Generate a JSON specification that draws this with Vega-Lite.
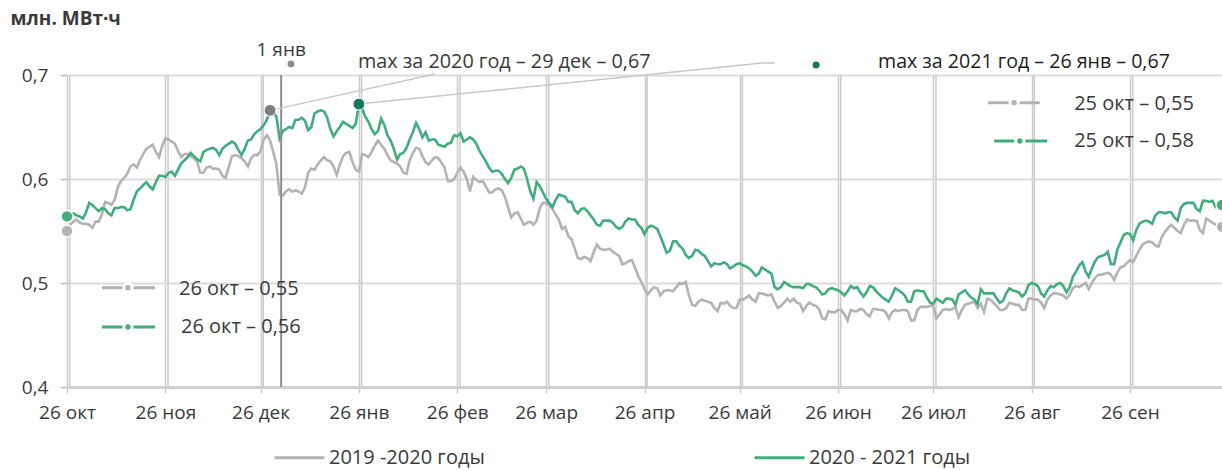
{
"$schema":"https://vega.github.io/schema/vega-lite/v6.json",
"width":1155,"height":312,
"autosize":{"type":"none"},
"padding":{"left":67,"top":75,"right":0,"bottom":83},
"config":{"font":"Open Sans","view":{"stroke":null}},
"datasets":{"main":[
{"date":"2020-10-26","a":0.550,"b":0.564},{"date":"2020-10-27","a":0.556,"b":0.566},{"date":"2020-10-28","a":0.559,"b":0.567},{"date":"2020-10-29","a":0.561,"b":0.565},{"date":"2020-10-30","a":0.558,"b":0.564},{"date":"2020-10-31","a":0.557,"b":0.562},
{"date":"2020-11-01","a":0.557,"b":0.568},{"date":"2020-11-02","a":0.556,"b":0.577},{"date":"2020-11-03","a":0.553,"b":0.575},{"date":"2020-11-04","a":0.559,"b":0.572},{"date":"2020-11-05","a":0.559,"b":0.569},{"date":"2020-11-06","a":0.566,"b":0.572},{"date":"2020-11-07","a":0.578,"b":0.571},{"date":"2020-11-08","a":0.577,"b":0.567},{"date":"2020-11-09","a":0.575,"b":0.565},{"date":"2020-11-10","a":0.580,"b":0.572},{"date":"2020-11-11","a":0.592,"b":0.572},{"date":"2020-11-12","a":0.598,"b":0.573},{"date":"2020-11-13","a":0.601,"b":0.573},{"date":"2020-11-14","a":0.605,"b":0.570},{"date":"2020-11-15","a":0.612,"b":0.571},{"date":"2020-11-16","a":0.614,"b":0.580},{"date":"2020-11-17","a":0.611,"b":0.588},{"date":"2020-11-18","a":0.618,"b":0.591},{"date":"2020-11-19","a":0.624,"b":0.594},{"date":"2020-11-20","a":0.629,"b":0.597},{"date":"2020-11-21","a":0.631,"b":0.593},{"date":"2020-11-22","a":0.633,"b":0.590},{"date":"2020-11-23","a":0.626,"b":0.597},{"date":"2020-11-24","a":0.621,"b":0.603},{"date":"2020-11-25","a":0.632,"b":0.603},{"date":"2020-11-26","a":0.639,"b":0.602},{"date":"2020-11-27","a":0.638,"b":0.606},{"date":"2020-11-28","a":0.636,"b":0.607},{"date":"2020-11-29","a":0.634,"b":0.603},{"date":"2020-11-30","a":0.627,"b":0.609},
{"date":"2020-12-01","a":0.621,"b":0.615},{"date":"2020-12-02","a":0.624,"b":0.618},{"date":"2020-12-03","a":0.624,"b":0.621},{"date":"2020-12-04","a":0.622,"b":0.625},{"date":"2020-12-05","a":0.620,"b":0.622},{"date":"2020-12-06","a":0.617,"b":0.619},{"date":"2020-12-07","a":0.606,"b":0.617},{"date":"2020-12-08","a":0.606,"b":0.626},{"date":"2020-12-09","a":0.611,"b":0.628},{"date":"2020-12-10","a":0.612,"b":0.629},{"date":"2020-12-11","a":0.610,"b":0.630},{"date":"2020-12-12","a":0.610,"b":0.628},{"date":"2020-12-13","a":0.609,"b":0.623},{"date":"2020-12-14","a":0.603,"b":0.629},{"date":"2020-12-15","a":0.601,"b":0.632},{"date":"2020-12-16","a":0.612,"b":0.634},{"date":"2020-12-17","a":0.622,"b":0.636},{"date":"2020-12-18","a":0.623,"b":0.634},{"date":"2020-12-19","a":0.622,"b":0.628},{"date":"2020-12-20","a":0.620,"b":0.623},{"date":"2020-12-21","a":0.617,"b":0.629},{"date":"2020-12-22","a":0.612,"b":0.637},{"date":"2020-12-23","a":0.620,"b":0.638},{"date":"2020-12-24","a":0.623,"b":0.643},{"date":"2020-12-25","a":0.623,"b":0.646},{"date":"2020-12-26","a":0.627,"b":0.648},{"date":"2020-12-27","a":0.638,"b":0.652},{"date":"2020-12-28","a":0.642,"b":0.657},{"date":"2020-12-29","a":0.637,"b":0.666},{"date":"2020-12-30","a":0.626,"b":0.664},{"date":"2020-12-31","a":0.614,"b":0.660},
{"date":"2021-01-01","a":0.585,"b":0.639},{"date":"2021-01-02","a":0.584,"b":0.646},{"date":"2021-01-03","a":0.588,"b":0.648},{"date":"2021-01-04","a":0.590,"b":0.650},{"date":"2021-01-05","a":0.588,"b":0.649},{"date":"2021-01-06","a":0.589,"b":0.657},{"date":"2021-01-07","a":0.588,"b":0.657},{"date":"2021-01-08","a":0.586,"b":0.659},{"date":"2021-01-09","a":0.592,"b":0.656},{"date":"2021-01-10","a":0.606,"b":0.647},{"date":"2021-01-11","a":0.610,"b":0.650},{"date":"2021-01-12","a":0.609,"b":0.663},{"date":"2021-01-13","a":0.614,"b":0.665},{"date":"2021-01-14","a":0.618,"b":0.666},{"date":"2021-01-15","a":0.621,"b":0.665},{"date":"2021-01-16","a":0.618,"b":0.659},{"date":"2021-01-17","a":0.617,"b":0.648},{"date":"2021-01-18","a":0.612,"b":0.641},{"date":"2021-01-19","a":0.604,"b":0.646},{"date":"2021-01-20","a":0.614,"b":0.650},{"date":"2021-01-21","a":0.622,"b":0.655},{"date":"2021-01-22","a":0.625,"b":0.653},{"date":"2021-01-23","a":0.626,"b":0.651},{"date":"2021-01-24","a":0.616,"b":0.649},{"date":"2021-01-25","a":0.609,"b":0.653},{"date":"2021-01-26","a":0.607,"b":0.672},{"date":"2021-01-27","a":0.624,"b":0.668},{"date":"2021-01-28","a":0.623,"b":0.660},{"date":"2021-01-29","a":0.621,"b":0.655},{"date":"2021-01-30","a":0.626,"b":0.648},{"date":"2021-01-31","a":0.632,"b":0.643},
{"date":"2021-02-01","a":0.637,"b":0.646},{"date":"2021-02-02","a":0.633,"b":0.658},{"date":"2021-02-03","a":0.629,"b":0.652},{"date":"2021-02-04","a":0.623,"b":0.642},{"date":"2021-02-05","a":0.618,"b":0.637},{"date":"2021-02-06","a":0.616,"b":0.629},{"date":"2021-02-07","a":0.615,"b":0.619},{"date":"2021-02-08","a":0.612,"b":0.624},{"date":"2021-02-09","a":0.606,"b":0.625},{"date":"2021-02-10","a":0.605,"b":0.630},{"date":"2021-02-11","a":0.618,"b":0.638},{"date":"2021-02-12","a":0.625,"b":0.645},{"date":"2021-02-13","a":0.630,"b":0.654},{"date":"2021-02-14","a":0.629,"b":0.648},{"date":"2021-02-15","a":0.622,"b":0.640},{"date":"2021-02-16","a":0.616,"b":0.645},{"date":"2021-02-17","a":0.614,"b":0.637},{"date":"2021-02-18","a":0.618,"b":0.638},{"date":"2021-02-19","a":0.621,"b":0.638},{"date":"2021-02-20","a":0.620,"b":0.633},{"date":"2021-02-21","a":0.616,"b":0.632},{"date":"2021-02-22","a":0.611,"b":0.631},{"date":"2021-02-23","a":0.598,"b":0.634},{"date":"2021-02-24","a":0.598,"b":0.635},{"date":"2021-02-25","a":0.600,"b":0.642},{"date":"2021-02-26","a":0.606,"b":0.641},{"date":"2021-02-27","a":0.611,"b":0.644},{"date":"2021-02-28","a":0.607,"b":0.636},
{"date":"2021-03-01","a":0.600,"b":0.638},{"date":"2021-03-02","a":0.588,"b":0.640},{"date":"2021-03-03","a":0.602,"b":0.638},{"date":"2021-03-04","a":0.599,"b":0.634},{"date":"2021-03-05","a":0.597,"b":0.627},{"date":"2021-03-06","a":0.598,"b":0.622},{"date":"2021-03-07","a":0.593,"b":0.617},{"date":"2021-03-08","a":0.587,"b":0.611},{"date":"2021-03-09","a":0.587,"b":0.607},{"date":"2021-03-10","a":0.590,"b":0.608},{"date":"2021-03-11","a":0.591,"b":0.608},{"date":"2021-03-12","a":0.589,"b":0.605},{"date":"2021-03-13","a":0.583,"b":0.600},{"date":"2021-03-14","a":0.573,"b":0.596},{"date":"2021-03-15","a":0.563,"b":0.601},{"date":"2021-03-16","a":0.567,"b":0.609},{"date":"2021-03-17","a":0.568,"b":0.610},{"date":"2021-03-18","a":0.562,"b":0.612},{"date":"2021-03-19","a":0.556,"b":0.610},{"date":"2021-03-20","a":0.558,"b":0.600},{"date":"2021-03-21","a":0.559,"b":0.588},{"date":"2021-03-22","a":0.556,"b":0.581},{"date":"2021-03-23","a":0.560,"b":0.597},{"date":"2021-03-24","a":0.572,"b":0.593},{"date":"2021-03-25","a":0.577,"b":0.587},{"date":"2021-03-26","a":0.577,"b":0.581},{"date":"2021-03-27","a":0.575,"b":0.577},{"date":"2021-03-28","a":0.571,"b":0.573},{"date":"2021-03-29","a":0.566,"b":0.580},{"date":"2021-03-30","a":0.561,"b":0.585},{"date":"2021-03-31","a":0.552,"b":0.584},
{"date":"2021-04-01","a":0.554,"b":0.583},{"date":"2021-04-02","a":0.545,"b":0.578},{"date":"2021-04-03","a":0.542,"b":0.578},{"date":"2021-04-04","a":0.533,"b":0.570},{"date":"2021-04-05","a":0.524,"b":0.567},{"date":"2021-04-06","a":0.523,"b":0.571},{"date":"2021-04-07","a":0.525,"b":0.572},{"date":"2021-04-08","a":0.524,"b":0.569},{"date":"2021-04-09","a":0.521,"b":0.565},{"date":"2021-04-10","a":0.530,"b":0.561},{"date":"2021-04-11","a":0.537,"b":0.556},{"date":"2021-04-12","a":0.533,"b":0.555},{"date":"2021-04-13","a":0.532,"b":0.560},{"date":"2021-04-14","a":0.532,"b":0.560},{"date":"2021-04-15","a":0.533,"b":0.560},{"date":"2021-04-16","a":0.530,"b":0.558},{"date":"2021-04-17","a":0.528,"b":0.554},{"date":"2021-04-18","a":0.526,"b":0.552},{"date":"2021-04-19","a":0.518,"b":0.554},{"date":"2021-04-20","a":0.519,"b":0.559},{"date":"2021-04-21","a":0.521,"b":0.562},{"date":"2021-04-22","a":0.522,"b":0.561},{"date":"2021-04-23","a":0.515,"b":0.561},{"date":"2021-04-24","a":0.507,"b":0.556},{"date":"2021-04-25","a":0.501,"b":0.553},{"date":"2021-04-26","a":0.494,"b":0.547},{"date":"2021-04-27","a":0.489,"b":0.553},{"date":"2021-04-28","a":0.493,"b":0.555},{"date":"2021-04-29","a":0.496,"b":0.554},{"date":"2021-04-30","a":0.495,"b":0.552},
{"date":"2021-05-01","a":0.488,"b":0.545},{"date":"2021-05-02","a":0.492,"b":0.537},{"date":"2021-05-03","a":0.493,"b":0.529},{"date":"2021-05-04","a":0.493,"b":0.531},{"date":"2021-05-05","a":0.492,"b":0.540},{"date":"2021-05-06","a":0.496,"b":0.540},{"date":"2021-05-07","a":0.500,"b":0.536},{"date":"2021-05-08","a":0.499,"b":0.533},{"date":"2021-05-09","a":0.501,"b":0.527},{"date":"2021-05-10","a":0.488,"b":0.524},{"date":"2021-05-11","a":0.479,"b":0.526},{"date":"2021-05-12","a":0.478,"b":0.532},{"date":"2021-05-13","a":0.482,"b":0.531},{"date":"2021-05-14","a":0.484,"b":0.528},{"date":"2021-05-15","a":0.483,"b":0.526},{"date":"2021-05-16","a":0.482,"b":0.521},{"date":"2021-05-17","a":0.481,"b":0.516},{"date":"2021-05-18","a":0.476,"b":0.519},{"date":"2021-05-19","a":0.473,"b":0.518},{"date":"2021-05-20","a":0.481,"b":0.518},{"date":"2021-05-21","a":0.480,"b":0.520},{"date":"2021-05-22","a":0.482,"b":0.518},{"date":"2021-05-23","a":0.478,"b":0.514},{"date":"2021-05-24","a":0.476,"b":0.516},{"date":"2021-05-25","a":0.476,"b":0.518},{"date":"2021-05-26","a":0.484,"b":0.519},{"date":"2021-05-27","a":0.484,"b":0.517},{"date":"2021-05-28","a":0.486,"b":0.516},{"date":"2021-05-29","a":0.488,"b":0.514},{"date":"2021-05-30","a":0.484,"b":0.511},{"date":"2021-05-31","a":0.482,"b":0.507},
{"date":"2021-06-01","a":0.490,"b":0.509},{"date":"2021-06-02","a":0.490,"b":0.515},{"date":"2021-06-03","a":0.489,"b":0.513},{"date":"2021-06-04","a":0.488,"b":0.511},{"date":"2021-06-05","a":0.489,"b":0.509},{"date":"2021-06-06","a":0.482,"b":0.496},{"date":"2021-06-07","a":0.476,"b":0.494},{"date":"2021-06-08","a":0.478,"b":0.496},{"date":"2021-06-09","a":0.481,"b":0.501},{"date":"2021-06-10","a":0.485,"b":0.499},{"date":"2021-06-11","a":0.482,"b":0.497},{"date":"2021-06-12","a":0.485,"b":0.496},{"date":"2021-06-13","a":0.481,"b":0.496},{"date":"2021-06-14","a":0.480,"b":0.496},{"date":"2021-06-15","a":0.473,"b":0.495},{"date":"2021-06-16","a":0.478,"b":0.499},{"date":"2021-06-17","a":0.481,"b":0.499},{"date":"2021-06-18","a":0.479,"b":0.497},{"date":"2021-06-19","a":0.478,"b":0.496},{"date":"2021-06-20","a":0.475,"b":0.493},{"date":"2021-06-21","a":0.466,"b":0.489},{"date":"2021-06-22","a":0.465,"b":0.490},{"date":"2021-06-23","a":0.473,"b":0.494},{"date":"2021-06-24","a":0.472,"b":0.495},{"date":"2021-06-25","a":0.472,"b":0.494},{"date":"2021-06-26","a":0.474,"b":0.493},{"date":"2021-06-27","a":0.474,"b":0.491},{"date":"2021-06-28","a":0.470,"b":0.488},{"date":"2021-06-29","a":0.464,"b":0.492},{"date":"2021-06-30","a":0.474,"b":0.497},
{"date":"2021-07-01","a":0.473,"b":0.495},{"date":"2021-07-02","a":0.473,"b":0.496},{"date":"2021-07-03","a":0.475,"b":0.491},{"date":"2021-07-04","a":0.474,"b":0.487},{"date":"2021-07-05","a":0.470,"b":0.491},{"date":"2021-07-06","a":0.468,"b":0.497},{"date":"2021-07-07","a":0.475,"b":0.496},{"date":"2021-07-08","a":0.475,"b":0.492},{"date":"2021-07-09","a":0.474,"b":0.489},{"date":"2021-07-10","a":0.474,"b":0.486},{"date":"2021-07-11","a":0.472,"b":0.484},{"date":"2021-07-12","a":0.466,"b":0.482},{"date":"2021-07-13","a":0.472,"b":0.488},{"date":"2021-07-14","a":0.474,"b":0.495},{"date":"2021-07-15","a":0.473,"b":0.493},{"date":"2021-07-16","a":0.474,"b":0.491},{"date":"2021-07-17","a":0.474,"b":0.488},{"date":"2021-07-18","a":0.473,"b":0.482},{"date":"2021-07-19","a":0.464,"b":0.482},{"date":"2021-07-20","a":0.464,"b":0.492},{"date":"2021-07-21","a":0.474,"b":0.493},{"date":"2021-07-22","a":0.477,"b":0.492},{"date":"2021-07-23","a":0.477,"b":0.492},{"date":"2021-07-24","a":0.477,"b":0.486},{"date":"2021-07-25","a":0.478,"b":0.481},{"date":"2021-07-26","a":0.478,"b":0.480},{"date":"2021-07-27","a":0.466,"b":0.485},{"date":"2021-07-28","a":0.470,"b":0.483},{"date":"2021-07-29","a":0.474,"b":0.481},{"date":"2021-07-30","a":0.475,"b":0.485},{"date":"2021-07-31","a":0.474,"b":0.485},
{"date":"2021-08-01","a":0.475,"b":0.484},{"date":"2021-08-02","a":0.477,"b":0.479},{"date":"2021-08-03","a":0.467,"b":0.489},{"date":"2021-08-04","a":0.474,"b":0.491},{"date":"2021-08-05","a":0.479,"b":0.493},{"date":"2021-08-06","a":0.480,"b":0.489},{"date":"2021-08-07","a":0.481,"b":0.486},{"date":"2021-08-08","a":0.482,"b":0.484},{"date":"2021-08-09","a":0.476,"b":0.480},{"date":"2021-08-10","a":0.480,"b":0.494},{"date":"2021-08-11","a":0.472,"b":0.490},{"date":"2021-08-12","a":0.485,"b":0.490},{"date":"2021-08-13","a":0.484,"b":0.490},{"date":"2021-08-14","a":0.481,"b":0.490},{"date":"2021-08-15","a":0.478,"b":0.485},{"date":"2021-08-16","a":0.474,"b":0.481},{"date":"2021-08-17","a":0.474,"b":0.483},{"date":"2021-08-18","a":0.476,"b":0.490},{"date":"2021-08-19","a":0.481,"b":0.495},{"date":"2021-08-20","a":0.480,"b":0.493},{"date":"2021-08-21","a":0.479,"b":0.492},{"date":"2021-08-22","a":0.479,"b":0.491},{"date":"2021-08-23","a":0.474,"b":0.487},{"date":"2021-08-24","a":0.474,"b":0.490},{"date":"2021-08-25","a":0.485,"b":0.498},{"date":"2021-08-26","a":0.485,"b":0.500},{"date":"2021-08-27","a":0.484,"b":0.499},{"date":"2021-08-28","a":0.484,"b":0.497},{"date":"2021-08-29","a":0.481,"b":0.490},{"date":"2021-08-30","a":0.476,"b":0.487},{"date":"2021-08-31","a":0.484,"b":0.493},
{"date":"2021-09-01","a":0.488,"b":0.497},{"date":"2021-09-02","a":0.490,"b":0.496},{"date":"2021-09-03","a":0.490,"b":0.499},{"date":"2021-09-04","a":0.489,"b":0.500},{"date":"2021-09-05","a":0.488,"b":0.497},{"date":"2021-09-06","a":0.485,"b":0.491},{"date":"2021-09-07","a":0.489,"b":0.496},{"date":"2021-09-08","a":0.495,"b":0.506},{"date":"2021-09-09","a":0.497,"b":0.511},{"date":"2021-09-10","a":0.496,"b":0.517},{"date":"2021-09-11","a":0.498,"b":0.520},{"date":"2021-09-12","a":0.500,"b":0.511},{"date":"2021-09-13","a":0.494,"b":0.506},{"date":"2021-09-14","a":0.500,"b":0.514},{"date":"2021-09-15","a":0.505,"b":0.521},{"date":"2021-09-16","a":0.508,"b":0.525},{"date":"2021-09-17","a":0.508,"b":0.526},{"date":"2021-09-18","a":0.509,"b":0.527},{"date":"2021-09-19","a":0.510,"b":0.530},{"date":"2021-09-20","a":0.508,"b":0.518},{"date":"2021-09-21","a":0.503,"b":0.518},{"date":"2021-09-22","a":0.510,"b":0.532},{"date":"2021-09-23","a":0.515,"b":0.539},{"date":"2021-09-24","a":0.516,"b":0.546},{"date":"2021-09-25","a":0.519,"b":0.548},{"date":"2021-09-26","a":0.522,"b":0.547},{"date":"2021-09-27","a":0.520,"b":0.541},{"date":"2021-09-28","a":0.526,"b":0.551},{"date":"2021-09-29","a":0.532,"b":0.557},{"date":"2021-09-30","a":0.537,"b":0.559},
{"date":"2021-10-01","a":0.539,"b":0.560},{"date":"2021-10-02","a":0.540,"b":0.559},{"date":"2021-10-03","a":0.539,"b":0.557},{"date":"2021-10-04","a":0.536,"b":0.565},{"date":"2021-10-05","a":0.535,"b":0.568},{"date":"2021-10-06","a":0.544,"b":0.568},{"date":"2021-10-07","a":0.549,"b":0.567},{"date":"2021-10-08","a":0.553,"b":0.568},{"date":"2021-10-09","a":0.556,"b":0.568},{"date":"2021-10-10","a":0.553,"b":0.563},{"date":"2021-10-11","a":0.550,"b":0.560},{"date":"2021-10-12","a":0.548,"b":0.572},{"date":"2021-10-13","a":0.556,"b":0.576},{"date":"2021-10-14","a":0.561,"b":0.577},{"date":"2021-10-15","a":0.560,"b":0.577},{"date":"2021-10-16","a":0.560,"b":0.577},{"date":"2021-10-17","a":0.560,"b":0.571},{"date":"2021-10-18","a":0.551,"b":0.569},{"date":"2021-10-19","a":0.548,"b":0.579},{"date":"2021-10-20","a":0.562,"b":0.579},{"date":"2021-10-21","a":0.560,"b":0.578},{"date":"2021-10-22","a":0.558,"b":0.579},{"date":"2021-10-23","a":0.556,"b":0.573},{"date":"2021-10-24","a":0.558,"b":0.572},{"date":"2021-10-25","a":0.554,"b":0.575}
]},
"layer":[
{"data":{"name":"main","format":{"parse":{"date":"date"}}},
 "transform":[{"filter":"utcdate(datum.date)==26"}],
 "mark":{"type":"rule","xOffset":2.7,"color":"#cbcbcb","strokeWidth":1.5},
 "encoding":{"x":{"field":"date","type":"temporal","scale":{"type":"utc","domain":[{"year":2020,"month":10,"date":26,"utc":true},{"year":2021,"month":10,"date":25,"utc":true}]}}}},
{"data":{"name":"main","format":{"parse":{"date":"date"}}},
 "transform":[{"fold":["a","b"],"as":["s","v"]}],
 "mark":{"type":"line","strokeWidth":2.6},
 "encoding":{
  "x":{"field":"date","type":"temporal","scale":{"type":"utc","domain":[{"year":2020,"month":10,"date":26,"utc":true},{"year":2021,"month":10,"date":25,"utc":true}]},
   "axis":{"title":null,"values":[{"year":2020,"month":10,"date":26,"utc":true},{"year":2020,"month":11,"date":26,"utc":true},{"year":2020,"month":12,"date":26,"utc":true},{"year":2021,"month":1,"date":26,"utc":true},{"year":2021,"month":2,"date":26,"utc":true},{"year":2021,"month":3,"date":26,"utc":true},{"year":2021,"month":4,"date":26,"utc":true},{"year":2021,"month":5,"date":26,"utc":true},{"year":2021,"month":6,"date":26,"utc":true},{"year":2021,"month":7,"date":26,"utc":true},{"year":2021,"month":8,"date":26,"utc":true},{"year":2021,"month":9,"date":26,"utc":true}],
    "labelExpr":"'26 ' + ['янв','фев','мар','апр','май','июн','июл','авг','сен','окт','ноя','дек'][utcmonth(datum.value)]",
    "grid":true,"gridColor":"#cbcbcb","gridWidth":1.5,"domainColor":"#d0d0d0","domainWidth":3,"tickColor":"#cbcbcb","tickWidth":1.5,"tickSize":6,
    "labelFontSize":19,"labelColor":"#3a3a3a","labelPadding":10,"labelFlush":false,"labelOverlap":false}},
  "y":{"field":"v","type":"quantitative","scale":{"domain":[0.4,0.7],"zero":false,"nice":false},
   "axis":{"values":[0.4,0.5,0.6,0.7],"labelExpr":"replace(format(datum.value,'.1f'),'.',',')","domain":false,"grid":true,"gridColor":"#dcdcdc","gridWidth":2,
    "tickColor":"#c8c8c8","tickWidth":2,"tickSize":7,"labelFontSize":19,"labelColor":"#3a3a3a","labelPadding":12,
    "title":"млн. МВт·ч","titleAngle":0,"titleX":-57,"titleY":-57,"titleAlign":"left","titleBaseline":"middle","titleFontSize":19,"titleFontWeight":"bold","titleColor":"#3a3a3a"}},
  "color":{"field":"s","type":"nominal","scale":{"domain":["a","b"],"range":["#b3b3b5","#41ad7d"]},
   "legend":{"title":null,"orient":"none","legendX":206,"legendY":356,"direction":"horizontal","symbolType":"stroke","symbolSize":2500,"symbolStrokeWidth":3,
    "labelExpr":"datum.label=='a' ? '2019 -2020 годы' : '2020 - 2021 годы'","labelFontSize":20,"labelColor":"#3a3a3a","labelOffset":3,"columnPadding":263,"labelLimit":400}}}},
{"data":{"values":[{}]},"mark":{"type":"rule","color":"#8c8c8c","strokeWidth":2},
 "encoding":{"x":{"datum":{"year":2021,"month":1,"date":1,"hours":12,"utc":true},"type":"temporal"},"y":{"datum":0.4,"type":"quantitative"},"y2":{"datum":0.7}}},
{"data":{"values":[{}]},"mark":{"type":"rule","color":"#c8c8c8","strokeWidth":1.5},
 "encoding":{"x":{"datum":{"year":2020,"month":12,"date":29,"utc":true},"type":"temporal"},"y":{"datum":0.666,"type":"quantitative"},"x2":{"datum":{"year":2021,"month":2,"date":19,"utc":true}},"y2":{"datum":0.701}}},
{"data":{"values":[{}]},"mark":{"type":"rule","color":"#c8c8c8","strokeWidth":1.5},
 "encoding":{"x":{"datum":{"year":2021,"month":1,"date":26,"utc":true},"type":"temporal"},"y":{"datum":0.672,"type":"quantitative"},"x2":{"datum":{"year":2021,"month":6,"date":2,"utc":true}},"y2":{"datum":0.7115}}},
{"data":{"values":[{}]},"mark":{"type":"rule","color":"#c8c8c8","strokeWidth":1.5},
 "encoding":{"x":{"datum":{"year":2021,"month":6,"date":2,"utc":true},"type":"temporal"},"y":{"datum":0.7115,"type":"quantitative"},"x2":{"datum":{"year":2021,"month":6,"date":6,"utc":true}},"y2":{"datum":0.7115}}},
{"data":{"name":"main","format":{"parse":{"date":"date"}}},
 "transform":[{"filter":"(utcyear(datum.date)==2020 && utcmonth(datum.date)==9 && utcdate(datum.date)==26) || (utcyear(datum.date)==2021 && utcmonth(datum.date)==9 && utcdate(datum.date)==25)"},{"fold":["a","b"],"as":["s","v"]}],
 "mark":{"type":"point","filled":true,"size":140,"opacity":1,"stroke":"white","strokeWidth":1.5},
 "encoding":{"x":{"field":"date","type":"temporal"},"y":{"field":"v","type":"quantitative"},"color":{"field":"s","type":"nominal","legend":null}}},
{"data":{"values":[{}]},"mark":{"type":"point","filled":true,"size":140,"opacity":1,"color":"#7e7e82","stroke":"white","strokeWidth":1},
 "encoding":{"x":{"datum":{"year":2020,"month":12,"date":29,"utc":true},"type":"temporal"},"y":{"datum":0.666,"type":"quantitative"}}},
{"data":{"values":[{}]},"mark":{"type":"point","filled":true,"size":140,"opacity":1,"color":"#147a5c","stroke":"white","strokeWidth":1},
 "encoding":{"x":{"datum":{"year":2021,"month":1,"date":26,"utc":true},"type":"temporal"},"y":{"datum":0.672,"type":"quantitative"}}},
{"data":{"values":[{}]},"mark":{"type":"point","filled":true,"size":45,"opacity":1,"color":"#8c8c8c"},
 "encoding":{"x":{"datum":{"year":2021,"month":1,"date":4,"hours":14,"utc":true},"type":"temporal"},"y":{"datum":0.7106,"type":"quantitative"}}},
{"data":{"values":[{}]},"mark":{"type":"point","filled":true,"size":50,"opacity":1,"color":"#147a5c"},
 "encoding":{"x":{"datum":{"year":2021,"month":6,"date":19,"hours":2,"utc":true},"type":"temporal"},"y":{"datum":0.7096,"type":"quantitative"}}},
{"data":{"values":[{}]},"mark":{"type":"text","text":"1 янв","fontSize":19,"color":"#3a3a3a","align":"center","baseline":"middle"},
 "encoding":{"x":{"datum":{"year":2021,"month":1,"date":1,"hours":12,"utc":true},"type":"temporal"},"y":{"datum":0.724,"type":"quantitative"}}},
{"data":{"values":[{}]},"mark":{"type":"text","text":"max за 2020 год – 29 дек – 0,67","fontSize":19.8,"color":"#3a3a3a","align":"left","baseline":"middle"},
 "encoding":{"x":{"datum":{"year":2021,"month":1,"date":25,"hours":17,"utc":true},"type":"temporal"},"y":{"datum":0.7125,"type":"quantitative"}}},
{"data":{"values":[{}]},"mark":{"type":"text","text":"max за 2021 год – 26 янв – 0,67","fontSize":19.6,"color":"#1e1e1e","align":"left","baseline":"middle"},
 "encoding":{"x":{"datum":{"year":2021,"month":7,"date":8,"hours":14,"utc":true},"type":"temporal"},"y":{"datum":0.7125,"type":"quantitative"}}},
{"data":{"values":[{}]},"mark":{"type":"rule","color":"#b3b3b5","strokeWidth":3},
 "encoding":{"x":{"datum":{"year":2021,"month":8,"date":12,"hours":7,"utc":true},"type":"temporal"},"x2":{"datum":{"year":2021,"month":8,"date":28,"hours":14,"utc":true}},"y":{"datum":0.6734,"type":"quantitative"}}},
{"data":{"values":[{}]},"mark":{"type":"point","filled":true,"size":70,"opacity":1,"color":"#b3b3b5","stroke":"white","strokeWidth":3},
 "encoding":{"x":{"datum":{"year":2021,"month":8,"date":20,"hours":12,"utc":true},"type":"temporal"},"y":{"datum":0.6734,"type":"quantitative"}}},
{"data":{"values":[{}]},"mark":{"type":"rule","color":"#41ad7d","strokeWidth":3},
 "encoding":{"x":{"datum":{"year":2021,"month":8,"date":14,"hours":5,"utc":true},"type":"temporal"},"x2":{"datum":{"year":2021,"month":8,"date":30,"hours":22,"utc":true}},"y":{"datum":0.6365,"type":"quantitative"}}},
{"data":{"values":[{}]},"mark":{"type":"point","filled":true,"size":70,"opacity":1,"color":"#41ad7d","stroke":"white","strokeWidth":3},
 "encoding":{"x":{"datum":{"year":2021,"month":8,"date":22,"hours":7,"utc":true},"type":"temporal"},"y":{"datum":0.6365,"type":"quantitative"}}},
{"data":{"values":[{}]},"mark":{"type":"text","text":"25 окт – 0,55","fontSize":20,"color":"#3a3a3a","align":"left","baseline":"middle"},
 "encoding":{"x":{"datum":{"year":2021,"month":9,"date":8,"hours":10,"utc":true},"type":"temporal"},"y":{"datum":0.672,"type":"quantitative"}}},
{"data":{"values":[{}]},"mark":{"type":"text","text":"25 окт – 0,58","fontSize":20,"color":"#3a3a3a","align":"left","baseline":"middle"},
 "encoding":{"x":{"datum":{"year":2021,"month":9,"date":8,"hours":10,"utc":true},"type":"temporal"},"y":{"datum":0.6365,"type":"quantitative"}}},
{"data":{"values":[{}]},"mark":{"type":"rule","color":"#b3b3b5","strokeWidth":3},
 "encoding":{"x":{"datum":{"year":2020,"month":11,"date":6,"utc":true},"type":"temporal"},"x2":{"datum":{"year":2020,"month":11,"date":22,"hours":17,"utc":true}},"y":{"datum":0.4955,"type":"quantitative"}}},
{"data":{"values":[{}]},"mark":{"type":"point","filled":true,"size":70,"opacity":1,"color":"#b3b3b5","stroke":"white","strokeWidth":3},
 "encoding":{"x":{"datum":{"year":2020,"month":11,"date":14,"hours":5,"utc":true},"type":"temporal"},"y":{"datum":0.4955,"type":"quantitative"}}},
{"data":{"values":[{}]},"mark":{"type":"rule","color":"#41ad7d","strokeWidth":3},
 "encoding":{"x":{"datum":{"year":2020,"month":11,"date":6,"utc":true},"type":"temporal"},"x2":{"datum":{"year":2020,"month":11,"date":22,"hours":17,"utc":true}},"y":{"datum":0.4577,"type":"quantitative"}}},
{"data":{"values":[{}]},"mark":{"type":"point","filled":true,"size":70,"opacity":1,"color":"#41ad7d","stroke":"white","strokeWidth":3},
 "encoding":{"x":{"datum":{"year":2020,"month":11,"date":14,"hours":5,"utc":true},"type":"temporal"},"y":{"datum":0.4577,"type":"quantitative"}}},
{"data":{"values":[{}]},"mark":{"type":"text","text":"26 окт – 0,55","fontSize":20,"color":"#3a3a3a","align":"left","baseline":"middle"},
 "encoding":{"x":{"datum":{"year":2020,"month":11,"date":30,"hours":7,"utc":true},"type":"temporal"},"y":{"datum":0.4942,"type":"quantitative"}}},
{"data":{"values":[{}]},"mark":{"type":"text","text":"26 окт – 0,56","fontSize":20,"color":"#3a3a3a","align":"left","baseline":"middle"},
 "encoding":{"x":{"datum":{"year":2020,"month":11,"date":30,"hours":22,"utc":true},"type":"temporal"},"y":{"datum":0.4577,"type":"quantitative"}}}
]
}
